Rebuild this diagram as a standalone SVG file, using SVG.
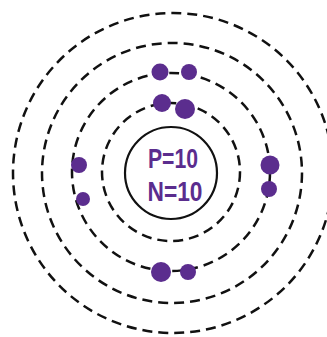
<svg xmlns="http://www.w3.org/2000/svg" width="327" height="337" viewBox="0 0 327 337">
<style>
.ring{fill:none;stroke:#111;stroke-width:2.5;stroke-dasharray:10 6}
.nuc{fill:none;stroke:#111;stroke-width:2.2}
.e{fill:#5b2d8e}
.lbl{font-family:"Liberation Sans",Arial,sans-serif;font-weight:bold;font-size:28px;fill:#5b2d8e;text-anchor:middle}
</style>
<rect width="327" height="337" fill="#fff"/>
<g id="shells">
<circle class="ring" cx="171" cy="172" r="69"/>
<circle class="ring" cx="171" cy="172" r="99"/>
<circle class="ring" cx="172" cy="173" r="130"/>
<circle class="ring" cx="173" cy="173" r="160"/>
</g>
<g id="nucleus">
<circle class="nuc" cx="171" cy="173" r="46"/>
<text class="lbl" x="173" y="168" textLength="50" lengthAdjust="spacingAndGlyphs">P=10</text>
<text class="lbl" x="175" y="201" textLength="55" lengthAdjust="spacingAndGlyphs">N=10</text>
</g>
<g id="electrons">
<circle class="e" cx="162" cy="103" r="9"/>
<circle class="e" cx="185" cy="109" r="10"/>
<circle class="e" cx="160" cy="72" r="8.5"/>
<circle class="e" cx="189" cy="72" r="8"/>
<circle class="e" cx="79" cy="165" r="8"/>
<circle class="e" cx="83" cy="199" r="7"/>
<circle class="e" cx="270" cy="165" r="9.5"/>
<circle class="e" cx="269" cy="189" r="8"/>
<circle class="e" cx="161" cy="272" r="10"/>
<circle class="e" cx="188" cy="272" r="8"/>
</g>
</svg>
